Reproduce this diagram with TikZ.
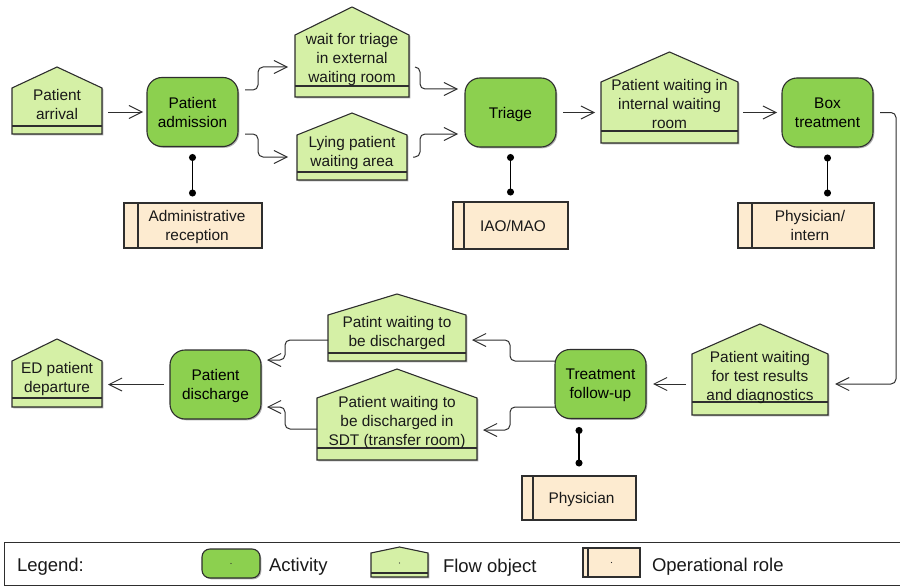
\documentclass[tikz,border=0pt]{standalone}
\usepackage{fontspec}
\setmainfont{Liberation Sans}
\usetikzlibrary{arrows.meta,calc,shadows}

\definecolor{actfill}{HTML}{8CD04F}
\definecolor{flowfill}{HTML}{D5F0A6}
\definecolor{rolefill}{HTML}{FDEBD0}
\definecolor{edgec}{HTML}{2E2E2E}

\newcommand\boxfont{\fontsize{15.4}{19}\selectfont}
\newcommand\legfont{\fontsize{18.5}{22}\selectfont}

\tikzset{
  base/.style={inner sep=0pt, outer sep=0pt},
  shadowed/.style={drop shadow={shadow xshift=1.3pt, shadow yshift=-1.3pt, opacity=.3, fill=black}},
  activity/.style={base, draw=edgec, line width=1.1pt, fill=actfill, rounded corners=15pt,
    minimum width=91pt, minimum height=69pt, shadowed, align=center, font=\boxfont, text depth=0pt},
  flowshape/.style={draw=edgec, line width=1.1pt, fill=flowfill, line join=miter, shadowed},
  rolebox/.style={base, draw=edgec, line width=1.1pt, fill=rolefill, shadowed},
  bound/.style={base, draw=none, fill=none},
  lbl/.style={base, align=center, font=\boxfont, text depth=0pt, text=black!90},
  leglbl/.style={base, anchor=west, font=\legfont, text depth=0pt, text=black!90},
  edgeline/.style={draw=edgec, line width=1.1pt},
  flowarrow/.style={draw=edgec, line width=1pt, rounded corners=5pt,
    -{Straight Barb[length=13pt,width=13pt]}},
  assoc/.style={draw=black, line width=1.4pt, {Circle[length=7pt]}-{Circle[length=7pt]}},
}

% flow object: name, left, right, apex, shoulder, separator, bottom, label
\newcommand\flowobj[8]{%
  \node[bound, minimum width={#3-#2}, minimum height={#7-#4}] (#1) at ({(#2+#3)/2},{(#4+#7)/2}) {};
  \path[flowshape] (#1.south west) -- (#1.south east) -- ($(#1.north east)+(0,#5-#4)$)
    -- (#1.north) -- ($(#1.north west)+(0,#5-#4)$) -- cycle;
  \draw[edgeline] ($(#1.south west)+(0,#6-#7)$) -- ($(#1.south east)+(0,#6-#7)$);
  \node[lbl] (#1-t) at ({(#2+#3)/2},{(#5+#6)/2-2.5}) {#8};
}

% operational role: name, left, right, top, bottom, stripe, label
\newcommand\oprole[7]{%
  \node[rolebox, minimum width={#3-#2}, minimum height={#5-#4}] (#1) at ({(#2+#3)/2},{(#4+#5)/2}) {};
  \draw[edgeline] ($(#1.north west)+(#6-#2,0)$) -- ($(#1.south west)+(#6-#2,0)$);
  \node[lbl] (#1-t) at ({(#6+#3)/2-3},{(#4+#5)/2}) {#7};
}

\begin{document}
\begin{tikzpicture}[x=1pt, y=-1pt]
\useasboundingbox (0,0) rectangle (900,586);

% ---- upper row ----
\flowobj{arr}{12}{102}{67}{88}{126}{134}{Patient\\arrival}
\node[activity] (adm) at (192.5,112) {Patient\\admission};
\flowobj{wait}{295}{409}{7}{35}{86}{97}{wait for triage\\in external\\waiting room}
\flowobj{lying}{297}{407}{113}{135}{172}{180}{Lying patient\\waiting area}
\node[activity] (tri) at (510.5,112.5) {Triage};
\flowobj{int}{601}{738}{52}{82}{131}{143}{Patient waiting in\\internal waiting\\room}
\node[activity] (box) at (827.5,112.5) {Box\\treatment};

\oprole{admr}{124}{262}{203}{248}{138}{Administrative\\reception}
\oprole{iao}{453}{568}{202}{249}{464}{IAO/MAO}
\oprole{pint}{738}{874}{203}{248}{752}{Physician/\\intern}

% ---- lower row ----
\flowobj{test}{692}{828}{324}{354}{402}{415}{Patient waiting\\for test results\\and diagnostics}
\node[activity] (fu) at (600.5,384) {Treatment\\follow-up};
\flowobj{d1}{328}{466}{294}{315}{353}{361}{Patint waiting to\\be discharged}
\flowobj{d2}{317}{477}{369}{398}{448}{460}{Patient waiting to\\be discharged in\\SDT (transfer room)}
\node[activity] (dis) at (215.5,384.5) {Patient\\discharge};
\flowobj{dep}{12}{102}{339}{361}{398}{407}{ED patient\\departure}
\oprole{phys}{522}{636}{476}{520}{533}{Physician}

% ---- flow connectors ----
\draw[flowarrow] ($(arr.east |- adm.west)+(6,0)$) -- ($(adm.west)+(-4,0)$);
\draw[flowarrow] ($(adm.east)+(7,-22)$) -- ++(13,0) |- ($(wait.west)+(-7,15)$);
\draw[flowarrow] ($(adm.east)+(7,22)$) -- ++(13,0) |- ($(lying.west)+(-9,10.5)$);
\draw[flowarrow] ($(wait.east)+(6,15)$) -- ++(5,0) |- ($(tri.west)+(-7,-23.5)$);
\draw[flowarrow] ($(lying.east)+(6,10.5)$) -- ++(7,0) |- ($(tri.west)+(-7,21.5)$);
\draw[flowarrow] ($(tri.east)+(7,0)$) -- ($(int.west |- tri.east)+(-6,0)$);
\draw[flowarrow] ($(int.east |- box.west)+(5,0)$) -- ($(box.west)+(-5,0)$);
\draw[flowarrow] ($(box.east)+(7,0)$) -- ++(16,0) |- ($(test.east |- fu.east)+(7,0)$);
\draw[flowarrow] ($(test.west |- fu.east)+(-6,0)$) -- ($(fu.east)+(7,0)$);
\draw[flowarrow] ($(fu.west)+(0,-23)$) -- ++(-45,0) |- ($(d1.east)+(6,12.5)$);
\draw[flowarrow] ($(fu.west)+(0,23)$) -- ++(-45,0) |- ($(d2.east)+(6,15.5)$);
\draw[flowarrow] ($(d1.west)+(0,12.5)$) -- ++(-43,0) |- ($(dis.east)+(6,-24.5)$);
\draw[flowarrow] ($(d2.west)+(0,14.5)$) -- ++(-32,0) |- ($(dis.east)+(6,22.5)$);
\draw[flowarrow] ($(dis.west)+(-6,0)$) -- ($(dep.east |- dis.west)+(6,0)$);

% ---- role associations ----
\draw[assoc] ($(adm.south)+(0,7.5)$) -- ($(adm.south |- admr.north)+(0,-6.5)$);
\draw[assoc] ($(tri.south)+(0,7)$) -- ($(tri.south |- iao.north)+(0,-6.5)$);
\draw[assoc] ($(box.south)+(0,7.5)$) -- ($(box.south |- pint.north)+(0,-6.5)$);
\draw[assoc] ($(phys.north |- fu.south)+(0,8.5)$) -- ($(phys.north)+(0,-9.5)$);

% ---- legend ----
\node[bound, draw=edgec, line width=0.9pt, minimum width=898pt, minimum height=43pt] (legend) at (453,563.5) {};
\node[leglbl] (legt) at (17,564.5) {Legend:};
\node[activity, minimum width=58pt, minimum height=29pt, rounded corners=8pt] (legact) at (231,563.5) {};
\fill[edgec] (legact.center) circle (0.7);
\node[leglbl] (legactt) at (269,564.5) {Activity};
\flowobj{legflow}{371}{428}{547}{553}{573}{577}{}
\fill[edgec] ($(legflow.center)+(0,1)$) circle (0.7);
\node[leglbl] (legflowt) at (443,566) {Flow object};
\oprole{legrole}{583}{640}{548}{577}{588}{}
\fill[edgec] (legrole.center) circle (0.7);
\node[leglbl] (legrolet) at (652,564.5) {Operational role};
\end{tikzpicture}
\end{document}
